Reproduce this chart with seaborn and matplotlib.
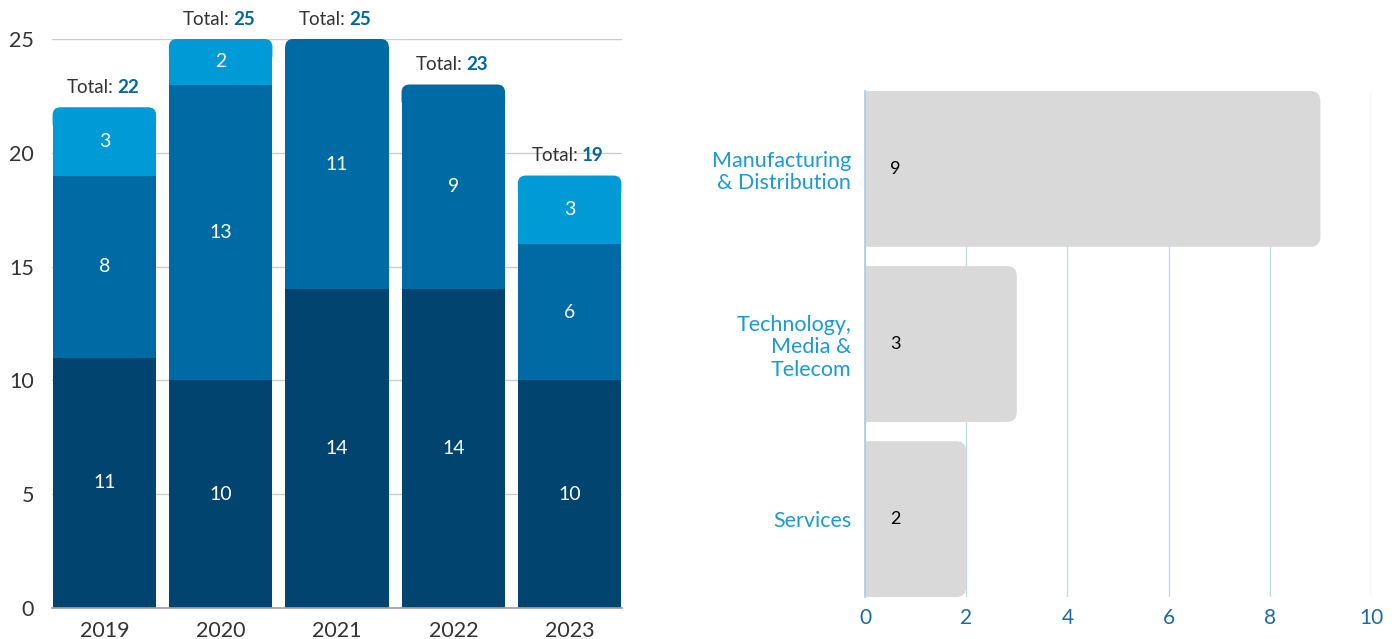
import numpy as np
import pandas as pd
import seaborn as sns
import matplotlib.pyplot as plt
from matplotlib.patches import FancyBboxPatch

##############################################################################
# Data
##############################################################################
years = ["2019", "2020", "2021", "2022", "2023"]
seg_bottom = [11, 10, 14, 14, 10]
seg_middle = [8, 13, 11, 9, 6]
seg_top = [3, 2, 0, 0, 3]

sectors = ["Manufacturing\n& Distribution", "Technology,\nMedia &\nTelecom", "Services"]
sector_counts = [9, 3, 2]

##############################################################################
# Style
##############################################################################
sns.set_theme(style="white")
plt.rcParams['font.family'] = ['Lato', 'DejaVu Sans']

c_dark = "#00446F"
c_mid = "#006AA4"
c_light = "#009AD6"
c_gray_txt = "#333333"

fig = plt.figure(figsize=(13.98, 6.39), dpi=100)
ax1 = fig.add_axes([0.0372, 0.0485, 0.4077, 0.8905])
ax2 = fig.add_axes([0.6187, 0.0657, 0.3620, 0.7919])

##############################################################################
# Left: stacked bars by year
##############################################################################
df = pd.DataFrame({"year": years, "b": seg_bottom, "m": seg_middle, "t": seg_top})
df["bm"] = df["b"] + df["m"]
df["total"] = df["bm"] + df["t"]

w = 0.89
bar_kw = dict(width=w, saturation=1, linewidth=0, edgecolor="none", ax=ax1)
sns.barplot(data=df, x="year", y="b", color=c_dark, **bar_kw)
sns.barplot(data=df, x="year", y="m", bottom=df["b"], color=c_mid, **bar_kw)
sns.barplot(data=df, x="year", y="t", bottom=df["bm"], color=c_light, **bar_kw)

# round the top corners of the top-most segment of each bar
rx, ry = 0.069, 0.35
n = len(years)
segs = [ax1.patches[i * n:(i + 1) * n] for i in range(3)]
for j in range(n):
    for lvl in range(3):
        if segs[lvl][j].get_height() == 0:
            segs[lvl][j].set_visible(False)
    top_level = 2 if seg_top[j] > 0 else 1
    p = segs[top_level][j]
    x0, y0 = p.get_x(), p.get_y()
    pw, ph = p.get_width(), p.get_height()
    top = y0 + ph
    # rectangle keeps the lower part, rounded cap covers the top
    p.set_height(ph - ry)
    rp = FancyBboxPatch((x0, top - 3 * ry), pw, 3 * ry,
                        boxstyle=f"round,pad=0,rounding_size={rx}",
                        mutation_aspect=ry / rx, facecolor=p.get_facecolor(),
                        edgecolor="none", linewidth=0, zorder=1.1)
    ax1.add_patch(rp)

for level, vals, bottoms in [(0, seg_bottom, [0] * n), (1, seg_middle, seg_bottom),
                             (2, seg_top, list(df["bm"]))]:
    for j in range(n):
        if vals[j] > 0:
            ax1.text(j, bottoms[j] + vals[j] / 2, str(vals[j]), ha="center", va="center",
                     color="white", fontsize=14, zorder=3)

for j in range(n):
    ax1.annotate("Total:", (j, df["total"][j]), xytext=(6.5, 8), textcoords="offset points",
                 ha="right", va="bottom", color=c_gray_txt, fontsize=13.5, annotation_clip=False)
    ax1.annotate(str(df["total"][j]), (j, df["total"][j]), xytext=(9, 8), textcoords="offset points",
                 ha="left", va="bottom", color="#0067A3", fontsize=13.5, fontweight="bold",
                 annotation_clip=False)

ax1.set_xlim(-0.45, n - 0.55)
ax1.set_ylim(0, 25)
ax1.set_yticks([0, 5, 10, 15, 20, 25])
ax1.yaxis.grid(True, color="#CCCCCC", linewidth=1)
ax1.set_axisbelow(True)
for s in ["top", "right", "left"]:
    ax1.spines[s].set_visible(False)
ax1.spines["bottom"].set_color("#A0A0A0")
ax1.set_xlabel("")
ax1.set_ylabel("")
ax1.tick_params(axis="y", length=0, pad=13, labelsize=15.5, labelcolor=c_gray_txt)
ax1.tick_params(axis="x", length=0, pad=9, labelsize=15.5, labelcolor=c_gray_txt)

##############################################################################
# Right: horizontal bars by sector
##############################################################################
df2 = pd.DataFrame({"sector": sectors, "count": sector_counts})
sns.barplot(data=df2, x="count", y="sector", orient="h", color="#D9D9D9", width=w,
            saturation=1, linewidth=0, ax=ax2)

rx2, ry2 = 0.2, 0.057
for p in list(ax2.patches):
    x0, y0 = p.get_x(), p.get_y()
    pw, ph = p.get_width(), p.get_height()
    p.set_visible(False)
    rp = FancyBboxPatch((x0 - 1, y0), pw + 1, ph,
                        boxstyle=f"round,pad=0,rounding_size={rx2}",
                        mutation_aspect=ry2 / rx2, facecolor="#D9D9D9",
                        edgecolor="none", linewidth=0, zorder=1)
    ax2.add_patch(rp)

for i, v in enumerate(sector_counts):
    ax2.text(0.6, i, str(v), ha="center", va="center", color="black", fontsize=13)

ax2.set_xlim(0, 10)
ax2.set_ylim(len(sectors) - 1 + 0.445, -0.445)
ax2.set_xticks([0, 2, 4, 6, 8, 10])
ax2.xaxis.grid(True, color="#BFDCEB", linewidth=1)
ax2.set_axisbelow(True)
for s in ["top", "right", "bottom"]:
    ax2.spines[s].set_visible(False)
ax2.spines["left"].set_color("#A9CDE3")
ax2.spines["left"].set_zorder(3)
ax2.set_xlabel("")
ax2.set_ylabel("")
ax2.tick_params(axis="x", length=0, pad=8, labelsize=15, labelcolor="#1A6AA6")
ax2.tick_params(axis="y", length=0, pad=10, labelsize=15.5, labelcolor="#1A9AD6")
for lbl in ax2.get_yticklabels():
    lbl.set_horizontalalignment("right")
    lbl.set_multialignment("right")
    lbl.set_linespacing(1.15)

fig.savefig("out.png", dpi=100)
